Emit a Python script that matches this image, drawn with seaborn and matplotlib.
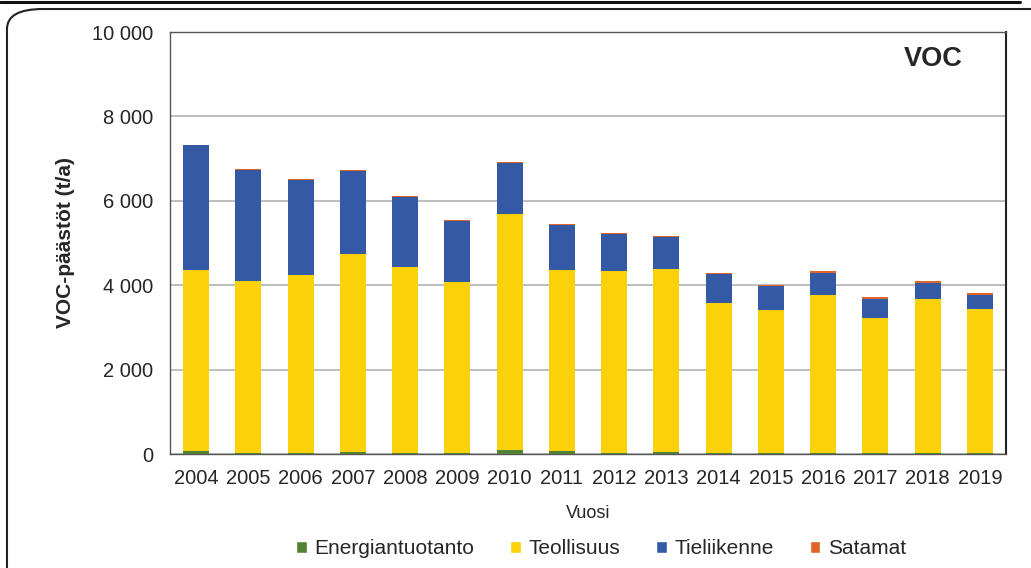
import numpy as np
import pandas as pd
import matplotlib
matplotlib.use("Agg")
import matplotlib.pyplot as plt
import seaborn as sns
from matplotlib.patches import Patch, FancyBboxPatch
from matplotlib.ticker import FuncFormatter

# data (t/a)
years = [2004, 2005, 2006, 2007, 2008, 2009, 2010, 2011,
         2012, 2013, 2014, 2015, 2016, 2017, 2018, 2019]
energiantuotanto = [75, 35, 35, 50, 35, 35, 100, 70, 35, 50, 35, 35, 35, 35, 35, 35]
teollisuus = [4275, 4075, 4215, 4700, 4405, 4050, 5577, 4300,
              4312, 4344, 3535, 3385, 3735, 3195, 3645, 3402]
tieliikenne = [2966, 2624, 2235, 1960, 1650, 1432, 1211, 1062,
               862, 753, 689, 570, 529, 444, 382, 340]
satamat = [10, 30, 30, 30, 30, 25, 25, 25, 25, 25, 25, 25, 30, 40, 30, 30]

series = ['Energiantuotanto', 'Teollisuus', 'Tieliikenne', 'Satamat']
colors = ['#548235', '#FBD10A', '#355AA5', '#E0632A']

df = pd.DataFrame({'Vuosi': [str(y) for y in years],
                   'Energiantuotanto': energiantuotanto,
                   'Teollisuus': teollisuus,
                   'Tieliikenne': tieliikenne,
                   'Satamat': satamat})

sns.set_style("white")
plt.rcParams['font.family'] = ['Liberation Sans', 'DejaVu Sans']

fig = plt.figure(figsize=(10.31, 5.68), dpi=100)
ax = fig.add_axes([170 / 1031, 114 / 568, 836 / 1031, 422 / 568])

# stacked bars: draw cumulative sums from the top down
cum = df[series].cumsum(axis=1)
for name, col in reversed(list(zip(series, colors))):
    sns.barplot(data=cum.assign(Vuosi=df['Vuosi']), x='Vuosi', y=name, color=col,
                width=0.5, saturation=1, linewidth=0, ax=ax, zorder=3)

ax.set_ylim(0, 10000)
ax.set_xlim(-0.5, len(years) - 0.5)
ax.set_yticks(np.arange(0, 10001, 2000))
ax.yaxis.set_major_formatter(FuncFormatter(lambda v, p: f'{int(v):,}'.replace(',', ' ')))
ax.grid(axis='y', color='#b4b4b4', linewidth=1.2, zorder=0)
ax.tick_params(axis='both', labelsize=14.5, length=0)
ax.tick_params(axis='x', pad=11)
ax.tick_params(axis='y', pad=12)
for s in ['left', 'bottom', 'top']:
    ax.spines[s].set_color('#555555')
    ax.spines[s].set_linewidth(1.0)
ax.spines['right'].set_color('#222222')
ax.spines['right'].set_linewidth(1.5)

ax.set_xlabel('Vuosi', fontsize=13, labelpad=12)
ax.set_ylabel('VOC-päästöt (t/a)', fontsize=15, fontweight='bold', labelpad=12)
ax.text(0.913, 0.935, 'VOC', transform=ax.transAxes, ha='center', va='center',
        fontsize=19.5, fontweight='bold')

handles = [Patch(facecolor=c, label=s) for s, c in zip(series, colors)]
fig.legend(handles=handles, loc='center', bbox_to_anchor=(0.583, 0.034), ncol=4,
           frameon=False, fontsize=15, handlelength=0.5, handleheight=0.5,
           handletextpad=0.35, columnspacing=1.75)

# outer rounded frame and the line above it
frame = FancyBboxPatch((7 / 1031, -0.05), 1.2, (568 - 9) / 568 + 0.05,
                       boxstyle='round,pad=0,rounding_size=0.035', transform=fig.transFigure,
                       facecolor='none', edgecolor='#222222', linewidth=1.5, zorder=-1)
fig.patches.append(frame)
fig.add_artist(plt.Line2D([0, 1020 / 1031], [1 - 1.5 / 568, 1 - 1.5 / 568],
                          transform=fig.transFigure, color='#111111', linewidth=2.2))

fig.savefig('out.png', dpi=100)
